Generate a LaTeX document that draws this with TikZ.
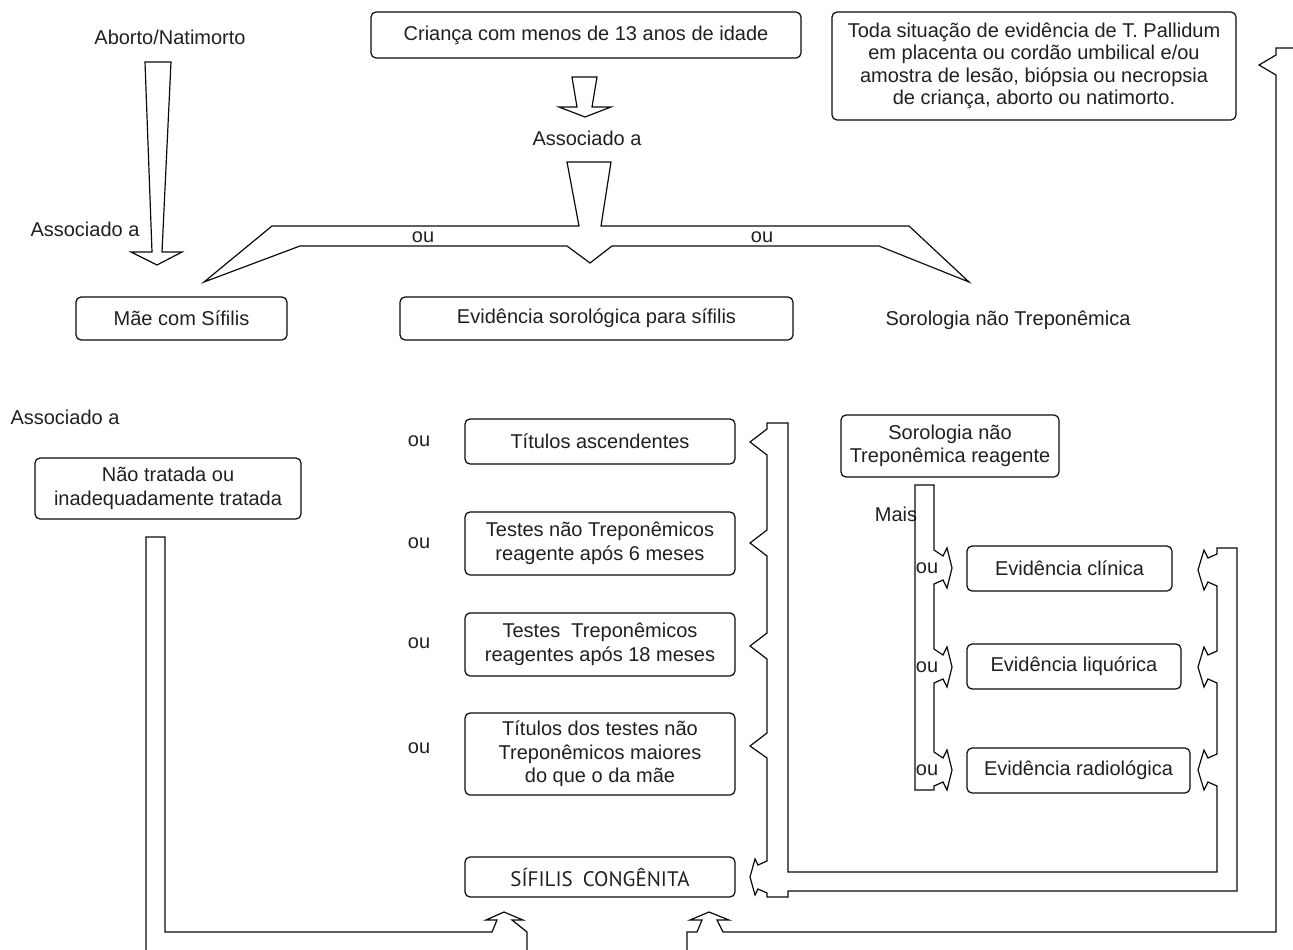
\documentclass[tikz,border=0pt]{standalone}
\usepackage{fontspec}
\setmainfont{Liberation Sans}
\newfontfamily\sifont{PT Sans}
\definecolor{txt}{RGB}{35,31,32}
\definecolor{lin}{RGB}{10,10,10}
\begin{document}
\begin{tikzpicture}[x=1pt,y=-1pt,
  every node/.style={font=\fontsize{20}{23.5}\selectfont, text=txt, inner sep=0pt},
  box/.style={draw=lin, line width=1.2pt, rounded corners=5pt, align=center},
  shp/.style={draw=lin, line width=1.2pt, line join=miter}]
\useasboundingbox (0,0) rectangle (1293,950);

% ---------- nodes ----------
\node (aborto) at (170,37) {Aborto/Natimorto};
\node (assocL1) at (85,229) {Associado a};
\node[box, minimum width=430, minimum height=46] (crianca) at (586,35) {Criança com menos de 13 anos de idade};
\node (assocM) at (587,138) {Associado a};
\node[box, minimum width=404, minimum height=108, font=\fontsize{20}{22.5}\selectfont] (toda) at (1034,66)
  {Toda situação de evidência de T.~Pallidum\\em placenta ou cordão umbilical e/ou\\amostra de lesão, biópsia ou necropsia\\de criança, aborto ou natimorto.};
\node (ouA) at (423,237) {ou};
\node (ouB) at (762,237) {ou};
\node[box, minimum width=211, minimum height=43] (mae) at (181.5,318.5) {Mãe com Sífilis};
\node[box, minimum width=393, minimum height=43] (evsor) at (596.5,318.5) {Evidência sorológica para sífilis};
\node (sorNT) at (1008,320) {Sorologia não Treponêmica};
\node (assocL2) at (65,417) {Associado a};
\node[box, minimum width=266, minimum height=61] (naotrat) at (168,488.5) {Não tratada ou\\inadequadamente tratada};

\node[box, minimum width=270, minimum height=45] (tit) at (600,441.5) {Títulos ascendentes};
\node[box, minimum width=270, minimum height=63] (t6) at (600,543.5) {Testes não Treponêmicos\\reagente após 6 meses};
\node[box, minimum width=270, minimum height=63] (t18) at (600,644.5) {Testes~~Treponêmicos\\reagentes após 18 meses};
\node[box, minimum width=270, minimum height=82] (titd) at (600,754) {Títulos dos testes não\\Treponêmicos maiores\\do que o da mãe};
\node[box, minimum width=270, minimum height=40] (sc) at (600,877) {\sifont\fontsize{21}{24}\selectfont SÍFILIS\hspace{10pt}CONGÊNITA};
\node (ou1) at (419,441) {ou};
\node (ou2) at (419,543) {ou};
\node (ou3) at (419,643) {ou};
\node (ou4) at (419,748) {ou};

\node[box, minimum width=218, minimum height=62] (sorR) at (950,446) {Sorologia não\\Treponêmica reagente};
\node (mais) at (896,514) {Mais};
\node[box, minimum width=205, minimum height=45] (evc) at (1069.5,568.5) {Evidência clínica};
\node[box, minimum width=214, minimum height=45] (evl) at (1074,666.5) {Evidência liquórica};
\node[box, minimum width=223, minimum height=45] (evr) at (1078.5,770.5) {Evidência radiológica};
\node (ou5) at (927,568) {ou};
\node (ou6) at (927,667) {ou};
\node (ou7) at (927,770) {ou};

% ---------- block arrows ----------
% long tapered arrow Aborto -> Mae
\draw[shp] (145,62) -- (171,62) -- (162,252) -- (182,252) -- (157,265) -- (131,252) -- (152,252) -- cycle;
% small arrow below Crianca
\draw[shp] (572,77) -- (597,77) -- (592,107) -- (611,107) -- (585,117) -- (559,107) -- (577,107) -- cycle;
% brace
\draw[shp] (567,162) -- (611,162) -- (601,226) -- (909,226) -- (969,282) -- (879,246) -- (612,246)
  -- (590,263) -- (567,246) -- (300,246) -- (204,282) -- (272,226) -- (579,226) -- cycle;

% "ou" bar with right-pointing heads
\draw[shp] (915,485) -- (934,485)
  -- (934,550) -- (943,556) -- (947,548) -- (952,568) -- (947,588) -- (943,580) -- (934,584)
  -- (934,649) -- (943,655) -- (947,647) -- (952,667) -- (947,687) -- (943,679) -- (934,683)
  -- (934,752) -- (943,758) -- (947,750) -- (952,770) -- (947,790) -- (943,782) -- (934,786)
  -- (934,790) -- (915,790) -- cycle;

% big closed bracket (middle notches + right heads)
\draw[shp] (767,423) -- (788,423) -- (788,872) -- (1217,872)
  -- (1217,786) -- (1208,782) -- (1204,790) -- (1198,770) -- (1204,750) -- (1208,758) -- (1217,754)
  -- (1217,683) -- (1208,679) -- (1204,687) -- (1198,667) -- (1204,647) -- (1208,655) -- (1217,651)
  -- (1217,586) -- (1208,582) -- (1204,590) -- (1198,570) -- (1204,550) -- (1208,558) -- (1217,554)
  -- (1217,548) -- (1237,548) -- (1237,891) -- (788,891) -- (788,897) -- (767,897)
  -- (767,893) -- (758,889) -- (755,895) -- (750,877) -- (755,859) -- (758,865) -- (767,861)
  -- (767,758) -- (750,746) -- (767,733)
  -- (767,659) -- (750,646) -- (767,633)
  -- (767,556) -- (750,543) -- (767,530)
  -- (767,455) -- (750,442) -- (767,429) -- cycle;

% left L arrow to SIFILIS
\draw[shp] (146,950) -- (146,537) -- (165,537) -- (165,932) -- (492,932) -- (497,920) -- (486,920)
  -- (504,912) -- (523,920) -- (512,920) -- (527,932) -- (527,950);

% right long arrow from the T. Pallidum box to SIFILIS
\draw[shp] (1293,48) -- (1276,48) -- (1276,55) -- (1259,65) -- (1276,75) -- (1276,932) -- (723,932)
  -- (717,920) -- (729,920) -- (709,912) -- (690,920) -- (702,920) -- (697,932) -- (687,932) -- (687,950);
\end{tikzpicture}
\end{document}
